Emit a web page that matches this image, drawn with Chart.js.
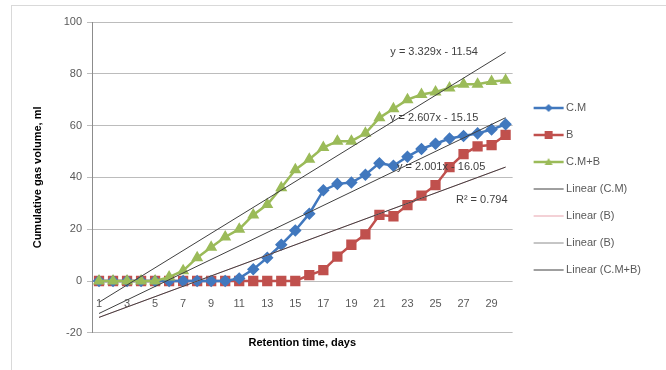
<!DOCTYPE html>
<html>
<head>
<meta charset="utf-8">
<script src="https://cdn.jsdelivr.net/npm/chart.js@4.4.0/dist/chart.umd.min.js"></script>
<style>
    html, body { margin: 0; padding: 0; background: #fff; }
    #wrap { width: 666px; height: 370px; }
</style>
</head>
<body>
<div id="wrap"><canvas id="myChart" width="666" height="370"></canvas></div>
<script>
// retention time, days
const days = ['1', '2', '3', '4', '5', '6', '7', '8', '9', '10', '11', '12', '13', '14', '15',
    '16', '17', '18', '19', '20', '21', '22', '23', '24', '25', '26', '27', '28', '29', '30'];

// cumulative gas volume, ml
const cmValues = [0, 0, 0, 0, 0, 0, 0, 0, 0, 0, 1, 4.5, 9, 14, 19.5,
    26, 35, 37.5, 38, 41, 45.5, 44.5, 48, 51, 53, 55, 56, 57, 58.5, 60.5];
const bValues = [0, 0, 0, 0, 0, 0, 0, 0, 0, 0, 0, 0, 0, 0, 0,
    2.3, 4.2, 9.4, 14, 18, 25.5, 25, 29.3, 33, 37, 44, 49, 52, 52.5, 56.4];
const cmbValues = [0, 0, 0, 0, 0, 1.5, 4, 9, 13, 17, 20, 25.5, 29.5, 36, 43,
    47, 51.5, 54, 54, 57, 63, 66.5, 70, 72, 73, 74.5, 76, 76, 77, 77.5];

const trendCM = [-12.54, 63.06];
const trendB = [-14.05, 43.98];
const trendCMB = [-8.21, 88.33];
const trendTexts = ['y = 3.329x - 11.54', 'y = 2.607x - 15.15', 'y = 2.001x - 16.05', 'R\u00b2 = 0.794'];

const yTicks = [-20, 0, 20, 40, 60, 80, 100];

const BLUE = '#4178be';
const RED = '#c0504d';
const GREEN = '#9bbb59';
const TEXT = '#595959';

function trendPoints(ends) {
    return [{ x: days[0], y: ends[0] }, { x: days[days.length - 1], y: ends[1] }];
}

// small line + marker picture for the legend, like Excel draws it
function legendIcon(color, marker, lineWidth) {
    const c = document.createElement('canvas');
    c.width = 42;
    c.height = 12;
    const ctx = c.getContext('2d');
    ctx.strokeStyle = color;
    ctx.lineWidth = lineWidth;
    ctx.beginPath();
    ctx.moveTo(10, 6);
    ctx.lineTo(40, 6);
    ctx.stroke();
    ctx.fillStyle = color;
    if (marker === 'diamond') {
        ctx.beginPath();
        ctx.moveTo(25, 2); ctx.lineTo(29, 6); ctx.lineTo(25, 10); ctx.lineTo(21, 6);
        ctx.closePath();
        ctx.fill();
    } else if (marker === 'square') {
        ctx.fillRect(21, 2, 8, 8);
    } else if (marker === 'triangle') {
        ctx.beginPath();
        ctx.moveTo(25, 2); ctx.lineTo(29, 9); ctx.lineTo(21, 9);
        ctx.closePath();
        ctx.fill();
    }
    return c;
}

const legendIcons = [
    legendIcon(BLUE, 'diamond', 2.5),
    legendIcon(RED, 'square', 2.5),
    legendIcon(GREEN, 'triangle', 2.5),
    legendIcon('#404040', null, 1),
    legendIcon('#e8a3ad', null, 1),
    legendIcon('#8c8c8c', null, 1),
    legendIcon('#404040', null, 1)
];

const chartFrame = {
    id: 'chartFrame',
    beforeDraw(chart) {
        const ctx = chart.ctx;
        ctx.save();
        ctx.fillStyle = '#fff';
        ctx.fillRect(0, 0, chart.width, chart.height);
        ctx.strokeStyle = '#d9d9d9';
        ctx.lineWidth = 1;
        ctx.strokeRect(11.5, 5.5, chart.width + 20, chart.height + 20);
        ctx.restore();
    }
};

// equation labels next to the trendlines, anchored on the scales
const trendLabels = {
    id: 'trendLabels',
    afterDatasetsDraw(chart) {
        const { ctx, scales: { x, y } } = chart;
        const anchors = [[23.9, 88.3], [23.9, 63], [24.4, 44.1], [27.3, 31.3]];
        ctx.save();
        ctx.font = '11px "Liberation Sans", Arial, sans-serif';
        ctx.fillStyle = '#404040';
        ctx.textAlign = 'center';
        ctx.textBaseline = 'middle';
        trendTexts.forEach((t, i) => {
            ctx.fillText(t, x.getPixelForValue(anchors[i][0]), y.getPixelForValue(anchors[i][1]));
        });
        ctx.restore();
    }
};

const ctx = document.getElementById('myChart').getContext('2d');
new Chart(ctx, {
    type: 'line',
    data: {
        labels: days,
        datasets: [{
            label: 'C.M',
            data: cmValues,
            borderColor: BLUE,
            backgroundColor: BLUE,
            borderWidth: 2.5,
            pointStyle: 'rectRot',
            pointRadius: 4.5,
            order: 3
        }, {
            label: 'B',
            data: bValues,
            borderColor: RED,
            backgroundColor: RED,
            borderWidth: 2.5,
            pointStyle: 'rect',
            pointRadius: 5.5,
            order: 4
        }, {
            label: 'C.M+B',
            data: cmbValues,
            borderColor: GREEN,
            backgroundColor: GREEN,
            borderWidth: 2.5,
            pointStyle: 'triangle',
            pointRadius: 4.5,
            order: 2
        }, {
            label: 'Linear (C.M)',
            data: trendPoints(trendCM),
            borderColor: '#404040',
            borderWidth: 1,
            pointRadius: 0,
            order: 0
        }, {
            label: 'Linear (B)',
            data: trendPoints(trendB),
            borderColor: '#e8a3ad',
            borderWidth: 1,
            pointRadius: 0,
            order: 1
        }, {
            label: 'Linear (B)',
            data: trendPoints(trendB),
            borderColor: '#404040',
            borderWidth: 1,
            pointRadius: 0,
            order: 0
        }, {
            label: 'Linear (C.M+B)',
            data: trendPoints(trendCMB),
            borderColor: '#404040',
            borderWidth: 1,
            pointRadius: 0,
            order: 0
        }]
    },
    options: {
        responsive: false,
        animation: false,
        devicePixelRatio: 1,
        layout: { padding: { top: 22, bottom: 14, left: 27, right: 15 } },
        scales: {
            x: {
                position: { y: 0 },
                offset: true,
                afterFit: s => { s.height = 0; },
                grid: { display: false, drawTicks: false },
                border: { display: false },
                ticks: {
                    autoSkip: false,
                    maxRotation: 0,
                    padding: 16,
                    color: TEXT,
                    font: { family: '"Liberation Sans", Arial, sans-serif', size: 11 },
                    callback: (v, i) => (i % 2 === 0 ? days[i] : '')
                }
            },
            y: {
                min: yTicks[0],
                max: yTicks[yTicks.length - 1],
                afterFit: s => { s.width = 65; },
                afterBuildTicks: s => { s.ticks = yTicks.map(v => ({ value: v })); },
                grid: { color: '#bcbcbc', drawTicks: true, tickLength: 5 },
                border: { color: '#8c8c8c' },
                ticks: {
                    padding: 5,
                    color: TEXT,
                    font: { family: '"Liberation Sans", Arial, sans-serif', size: 11 }
                },
                title: {
                    display: true,
                    text: 'Cumulative gas volume, ml',
                    color: '#000',
                    font: { family: '"Liberation Sans", Arial, sans-serif', size: 11, weight: 'bold' },
                    padding: { top: 4, bottom: 0 }
                }
            }
        },
        plugins: {
            tooltip: { enabled: false },
            title: {
                display: true,
                text: 'Retention time, days',
                position: 'bottom',
                fullSize: false,
                color: '#000',
                font: { family: '"Liberation Sans", Arial, sans-serif', size: 11, weight: 'bold' },
                padding: { top: 4, bottom: 6 }
            },
            legend: {
                position: 'right',
                labels: {
                    usePointStyle: true,
                    pointStyleWidth: 32,
                    padding: 16,
                    color: TEXT,
                    font: { family: '"Liberation Sans", Arial, sans-serif', size: 11 },
                    sort: (a, b) => a.datasetIndex - b.datasetIndex,
                    generateLabels: chart => Chart.defaults.plugins.legend.labels.generateLabels(chart)
                        .map(item => Object.assign(item, { pointStyle: legendIcons[item.datasetIndex] }))
                }
            }
        }
    },
    plugins: [chartFrame, trendLabels]
});
</script>
</body>
</html>
